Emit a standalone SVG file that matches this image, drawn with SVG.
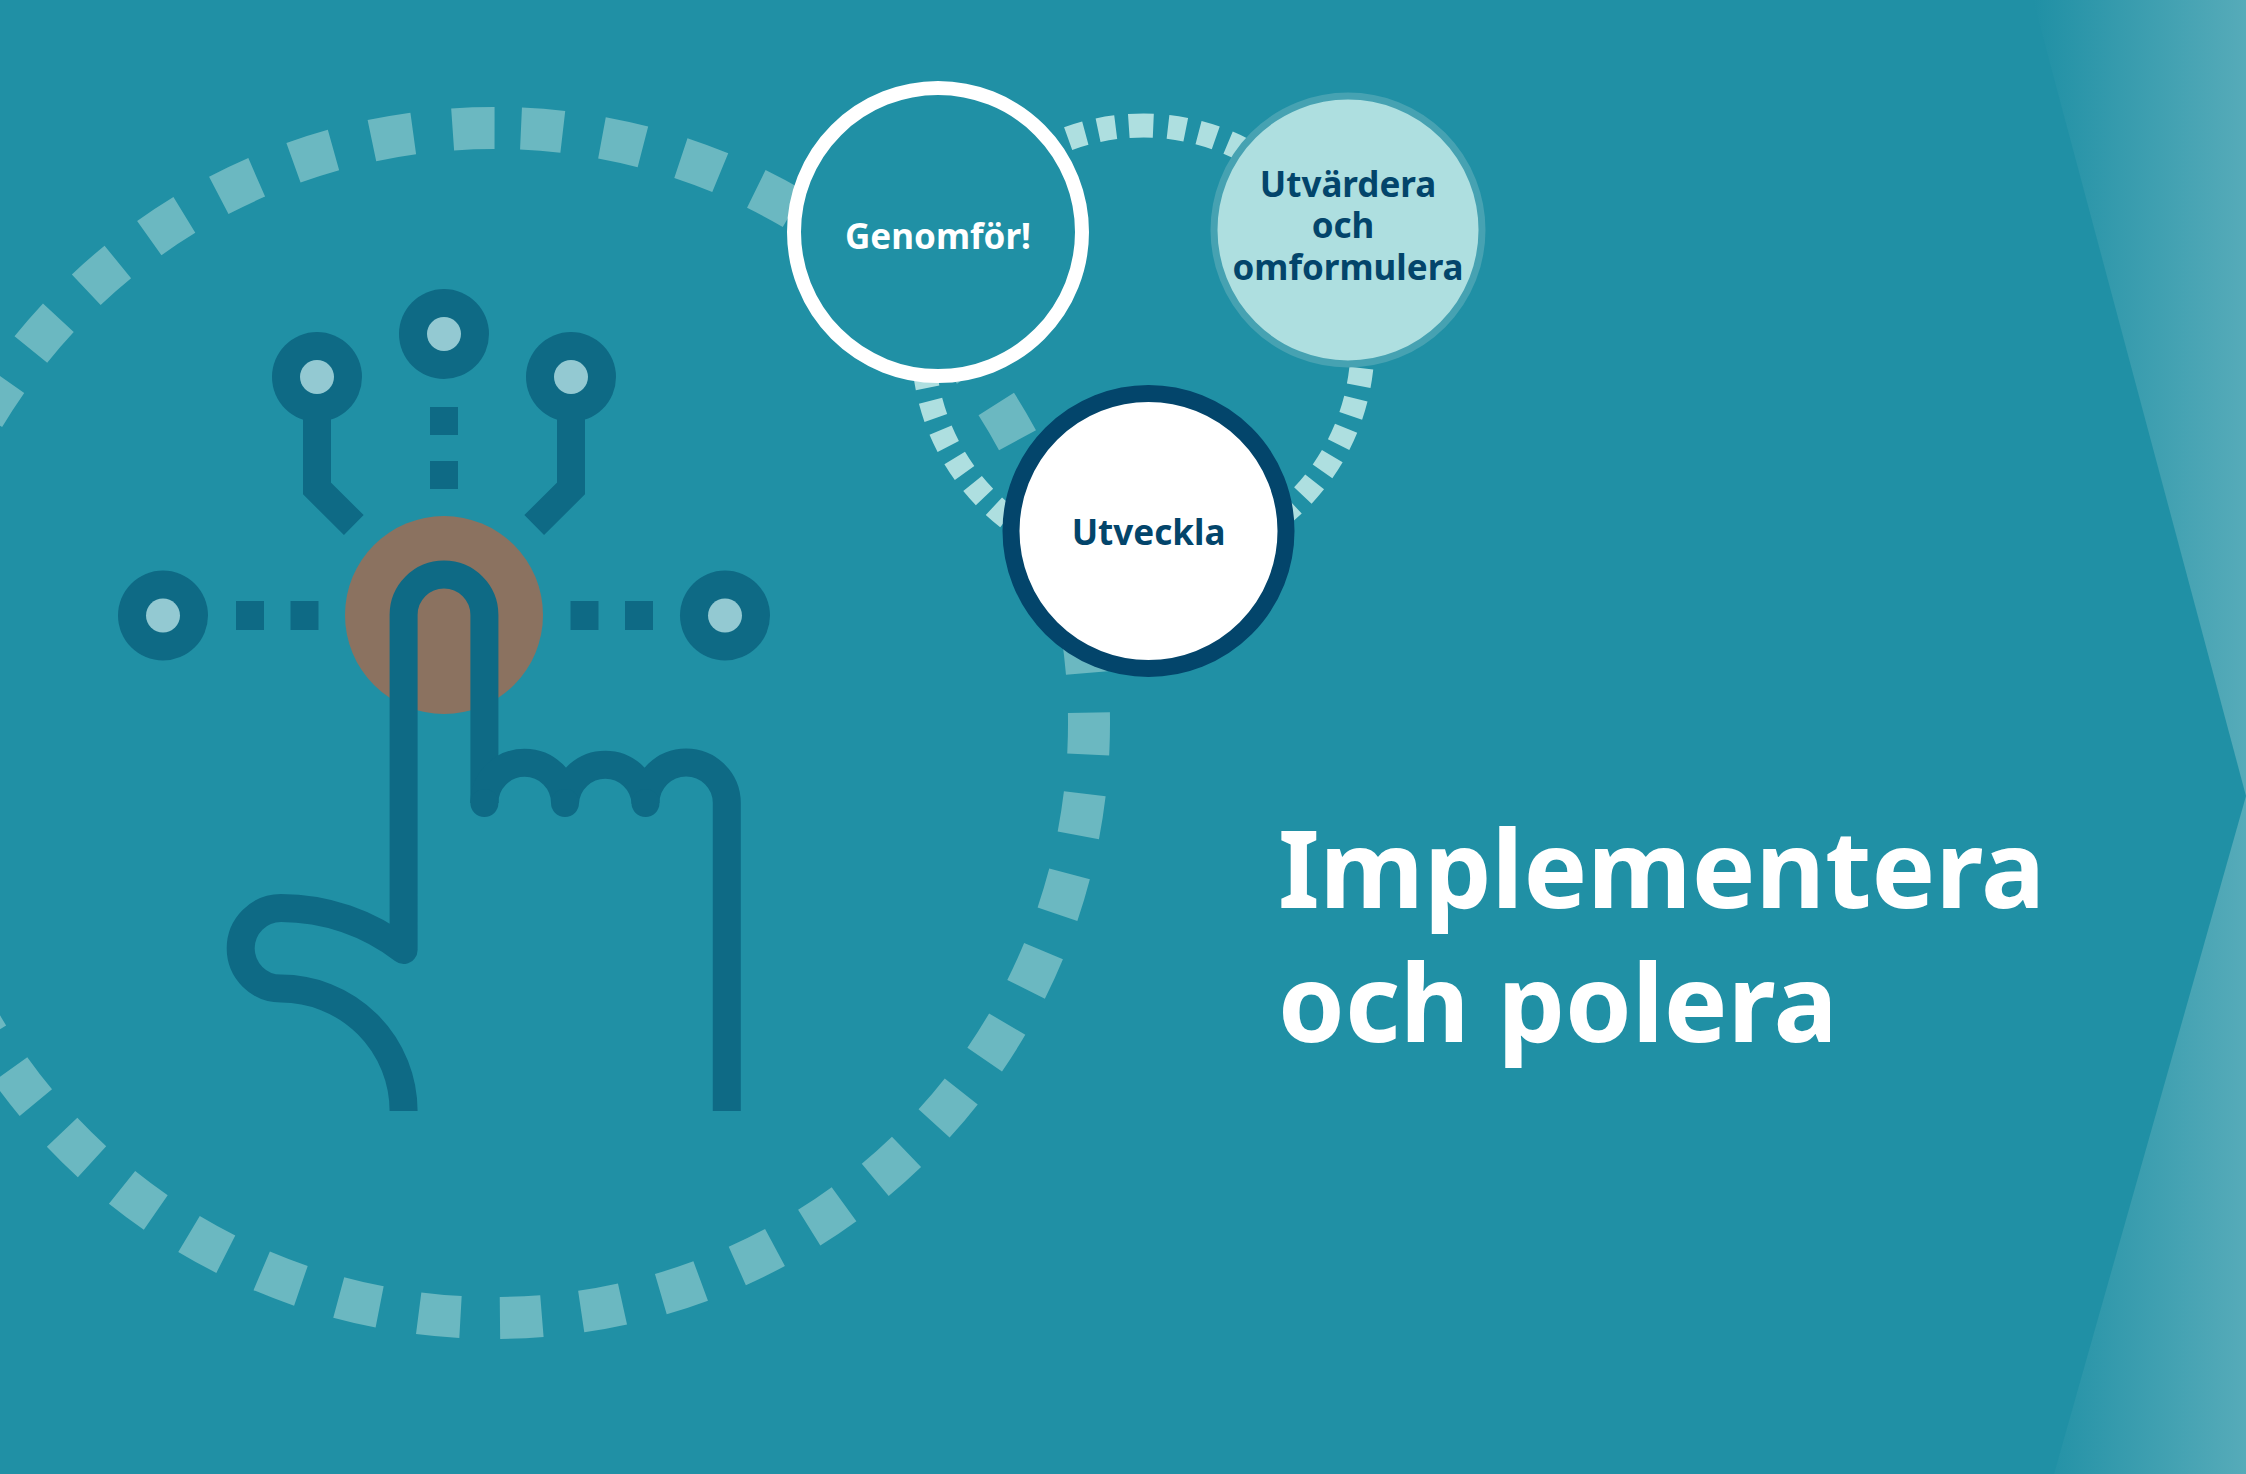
<svg xmlns="http://www.w3.org/2000/svg" width="2246" height="1474" viewBox="0 0 2246 1474">
<style>
.ic{fill:none;stroke:#0e6a85;stroke-width:28}
.dk{fill:#0e6a85}
.lt{fill:#93c9d2}
.rs{fill:none;stroke:#aedfe0;stroke-width:24}
text{font-family:"Noto Sans","Open Sans","Liberation Sans",sans-serif;font-weight:700;text-anchor:middle}
.n{fill:#03456b;font-size:35px}
</style>
<defs><linearGradient id="g" x1="2034" x2="2246" y1="0" y2="0" gradientUnits="userSpaceOnUse"><stop offset="0" stop-color="#2090a5"/><stop offset="1" stop-color="#56abb9"/></linearGradient></defs>
<rect width="2246" height="1474" fill="url(#g)"/>
<polygon points="0,0 2033,0 2246,796 2054,1474 0,1474" fill="#2090a5"/>
<g id="connectors">
<path id="ring-large" d="M521 128.600A595 595 0 1 1 467 1317.400A595 595 0 1 1 521 128.600" fill="none" stroke="#6bb8c1" stroke-width="42" stroke-dasharray="42 39.550"/>
<path id="ring-small" class="rs" d="M1168 126.900A219.500 219.500 0 1 1 1118 563.100A219.500 219.500 0 0 1 1115.700 127.200" stroke-dasharray="18 13.160"/>
<path id="ring-small-top" class="rs" d="M1128.800 126A219.500 219.500 0 0 1 1153.300 125.700"/>
</g>
<g id="icon">
<circle cx="444" cy="615" r="99" fill="#8b7260"/>
<circle class="dk" cx="444" cy="334" r="45"/><circle class="lt" cx="444" cy="334" r="17"/>
<circle class="dk" cx="317" cy="377" r="45"/><circle class="lt" cx="317" cy="377" r="17"/>
<circle class="dk" cx="571" cy="377" r="45"/><circle class="lt" cx="571" cy="377" r="17"/>
<circle class="dk" cx="163" cy="615.500" r="45"/><circle class="lt" cx="163" cy="615.500" r="17"/>
<circle class="dk" cx="725" cy="615.500" r="45"/><circle class="lt" cx="725" cy="615.500" r="17"/>
<rect class="dk" x="430" y="407" width="28" height="28"/><rect class="dk" x="430" y="461" width="28" height="28"/>
<rect class="dk" x="236" y="601" width="28" height="29"/><rect class="dk" x="290.500" y="601" width="28" height="29"/>
<rect class="dk" x="570.500" y="601" width="28" height="29"/><rect class="dk" x="625" y="601" width="28" height="29"/>
<path class="ic" d="M317 410V488.500L353.800 525"/>
<path class="ic" d="M571 410V488.500L534.200 525"/>
<path class="ic" stroke-linejoin="round" d="M403.600 1111A122.600 122.600 0 0 0 281 988.600A40.300 40.300 0 0 1 281 908A200 200 0 0 1 403.600 950V615A40.400 40.400 0 0 1 484.400 615V803"/>
<path class="ic" d="M484.400 803A40.300 40.300 0 0 1 565 803A40.300 40.300 0 0 1 645.500 803A40.650 40.650 0 0 1 726.800 803V1111"/>
<circle class="dk" cx="484.400" cy="803" r="14"/><circle class="dk" cx="565" cy="803" r="14"/><circle class="dk" cx="645.500" cy="803" r="14"/>
</g>
<g id="node-genomfor">
<circle cx="938" cy="232" r="144" fill="#2090a5" stroke="#fff" stroke-width="14"/>
<text x="938" y="248.500" fill="#fff" font-size="35">Genomför!</text>
</g>
<g id="node-utvardera">
<circle cx="1348" cy="230" r="134" fill="#aedfe0" stroke="#46a2b2" stroke-width="7"/>
<text class="n" x="1348" y="196.500">Utvärdera</text>
<text class="n" x="1343" y="237.500">och</text>
<text class="n" x="1348" y="279.500">omformulera</text>
</g>
<g id="node-utveckla">
<circle cx="1148.500" cy="531" r="137.500" fill="#fff" stroke="#03456b" stroke-width="17"/>
<text class="n" x="1148.500" y="544.500">Utveckla</text>
</g>
<g id="title" fill="#fff" style="font-size:107px">
<text x="1278" y="908" style="text-anchor:start">Implementera</text>
<text x="1278" y="1042" style="text-anchor:start">och polera</text>
</g>
</svg>
